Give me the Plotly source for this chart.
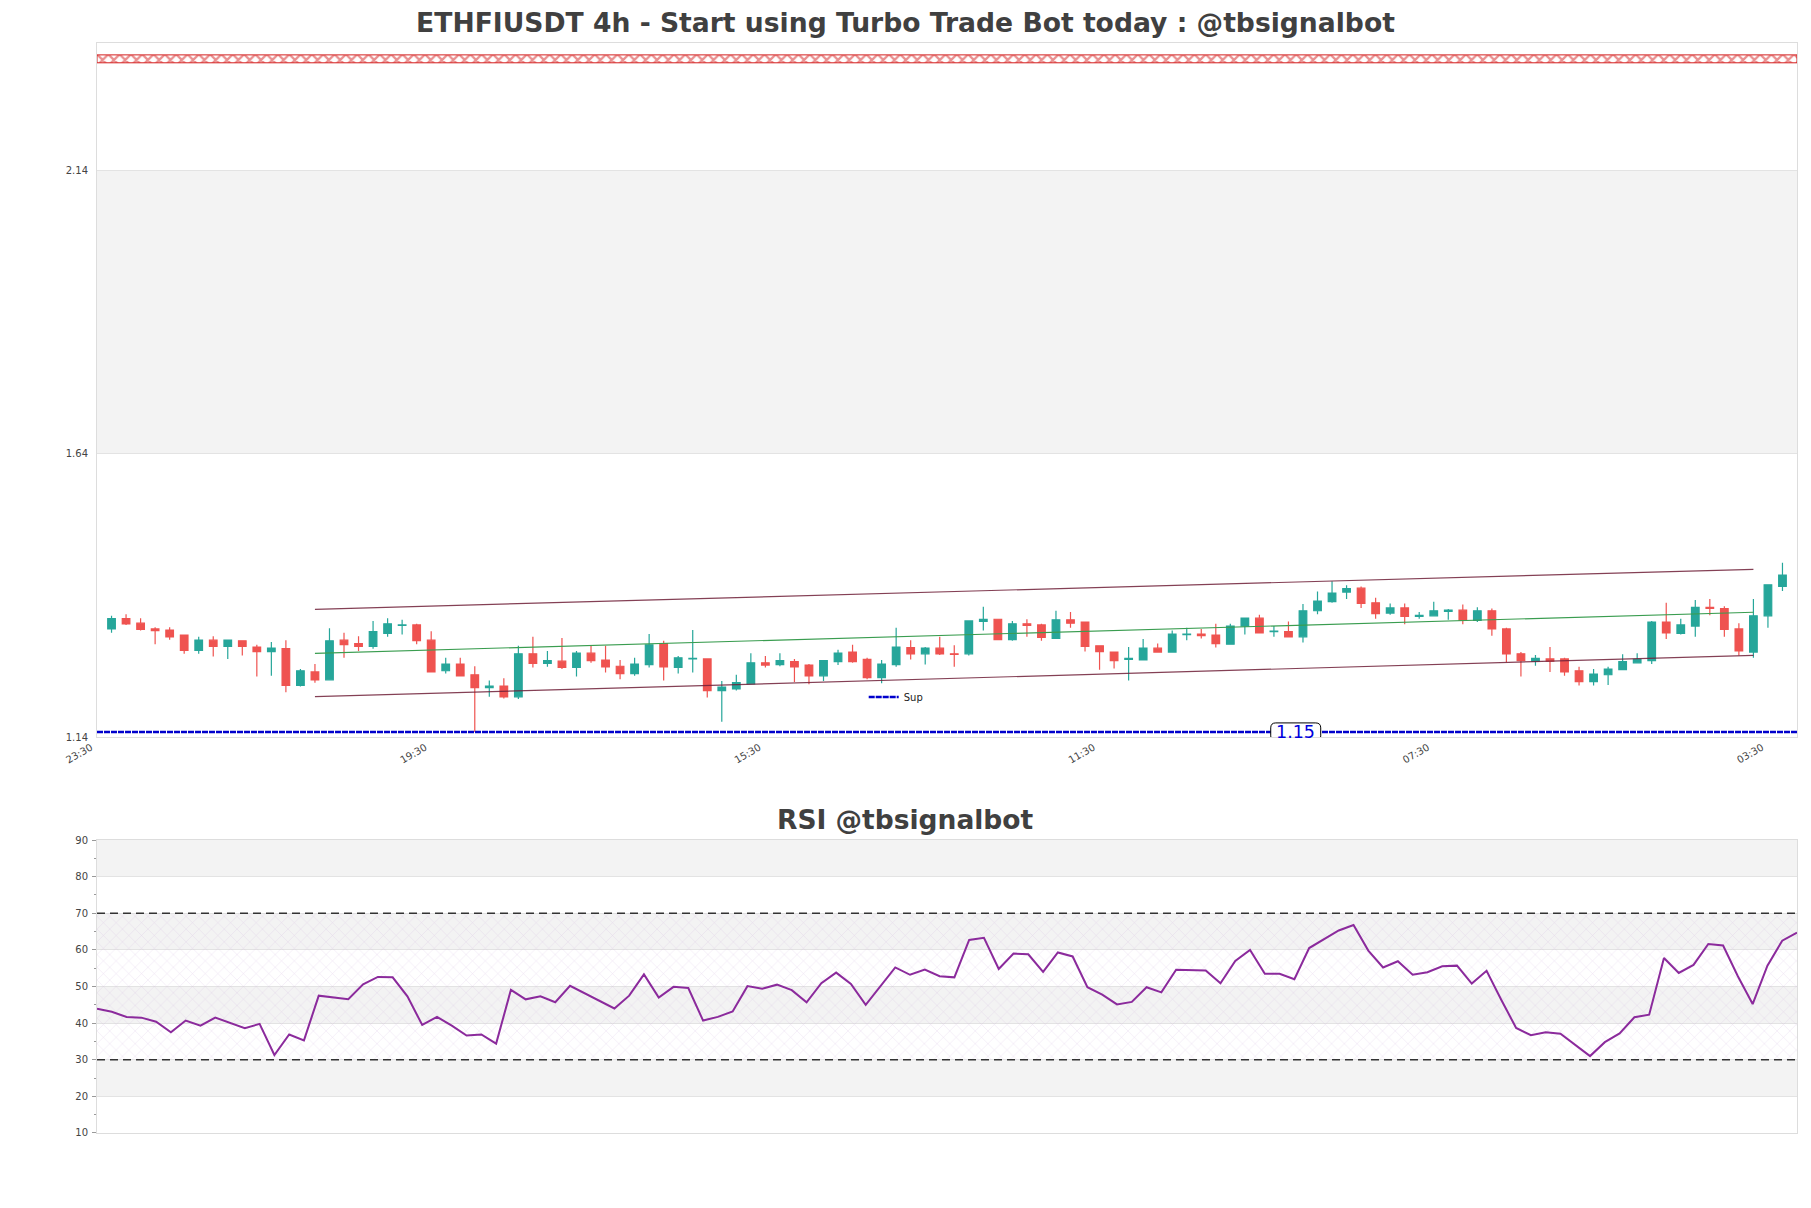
import plotly.graph_objects as go

# ---------------- data ----------------
opens = [1.331,1.349,1.341,1.331,1.329,1.320,1.293,1.311,1.300,1.310,
         1.299,1.291,1.296,1.231,1.255,1.241,1.311,1.305,1.300,1.323,
         1.337,1.338,1.311,1.257,1.269,1.250,1.227,1.230,1.211,1.287,
         1.270,1.274,1.263,1.288,1.276,1.265,1.252,1.268,1.305,1.263,
         1.278,1.278,1.222,1.225,1.234,1.271,1.268,1.273,1.267,1.248,
         1.273,1.290,1.277,1.245,1.268,1.298,1.287,1.297,1.287,1.287,
         1.344,1.348,1.312,1.340,1.338,1.314,1.347,1.343,1.301,1.290,
         1.277,1.276,1.297,1.290,1.321,1.322,1.320,1.304,1.336,1.350,
         1.326,1.326,1.317,1.363,1.379,1.396,1.403,1.377,1.359,1.368,
         1.353,1.354,1.362,1.364,1.346,1.363,1.331,1.287,1.274,1.278,
         1.278,1.257,1.238,1.250,1.259,1.271,1.275,1.343,1.323,1.336,
         1.369,1.367,1.331,1.290,1.354,1.406]
highs = [1.354,1.357,1.350,1.334,1.334,1.320,1.317,1.318,1.311,1.311,
         1.303,1.308,1.311,1.260,1.269,1.332,1.324,1.318,1.345,1.350,
         1.347,1.340,1.327,1.280,1.280,1.265,1.240,1.244,1.301,1.317,
         1.292,1.315,1.292,1.301,1.301,1.276,1.280,1.322,1.310,1.283,
         1.329,1.279,1.239,1.250,1.288,1.283,1.288,1.278,1.269,1.275,
         1.294,1.303,1.280,1.276,1.333,1.311,1.299,1.317,1.302,1.345,
         1.370,1.348,1.345,1.348,1.340,1.363,1.361,1.343,1.301,1.290,
         1.299,1.313,1.305,1.328,1.333,1.331,1.340,1.340,1.350,1.356,
         1.336,1.344,1.375,1.397,1.415,1.408,1.406,1.386,1.376,1.376,
         1.361,1.379,1.366,1.374,1.369,1.367,1.333,1.290,1.285,1.299,
         1.280,1.264,1.260,1.264,1.286,1.288,1.345,1.377,1.349,1.382,
         1.384,1.371,1.341,1.384,1.409,1.448]
lows = [1.324,1.338,1.328,1.304,1.312,1.287,1.287,1.282,1.278,1.284,
        1.247,1.248,1.219,1.229,1.236,1.240,1.280,1.292,1.296,1.317,
        1.321,1.304,1.254,1.252,1.247,1.149,1.211,1.208,1.207,1.263,
        1.264,1.260,1.247,1.271,1.254,1.242,1.248,1.263,1.240,1.252,
        1.254,1.210,1.167,1.222,1.234,1.263,1.265,1.237,1.233,1.239,
        1.267,1.271,1.242,1.235,1.264,1.277,1.268,1.285,1.264,1.284,
        1.328,1.312,1.310,1.317,1.310,1.314,1.333,1.291,1.259,1.261,
        1.240,1.276,1.290,1.290,1.311,1.314,1.298,1.304,1.321,1.323,
        1.317,1.316,1.307,1.357,1.377,1.384,1.368,1.349,1.356,1.339,
        1.349,1.354,1.347,1.339,1.343,1.319,1.272,1.247,1.266,1.255,
        1.248,1.231,1.231,1.232,1.258,1.270,1.269,1.313,1.321,1.317,
        1.355,1.317,1.284,1.280,1.333,1.398]
closes = [1.349,1.340,1.330,1.328,1.317,1.293,1.311,1.300,1.311,1.300,
          1.291,1.297,1.231,1.257,1.241,1.310,1.303,1.300,1.326,1.340,
          1.338,1.310,1.255,1.269,1.248,1.227,1.230,1.211,1.287,1.270,
          1.275,1.263,1.288,1.275,1.264,1.252,1.269,1.303,1.264,1.280,
          1.279,1.222,1.228,1.236,1.271,1.267,1.275,1.264,1.248,1.275,
          1.288,1.273,1.245,1.269,1.299,1.287,1.297,1.287,1.286,1.345,
          1.348,1.312,1.340,1.337,1.316,1.347,1.341,1.300,1.291,1.275,
          1.279,1.297,1.290,1.322,1.322,1.319,1.305,1.336,1.350,1.324,
          1.327,1.317,1.363,1.380,1.394,1.402,1.376,1.358,1.368,1.353,
          1.355,1.363,1.364,1.346,1.363,1.331,1.287,1.275,1.279,1.274,
          1.255,1.238,1.251,1.260,1.273,1.277,1.343,1.324,1.338,1.369,
          1.367,1.330,1.292,1.354,1.409,1.426]

rsi = [43.9,43.1,41.7,41.5,40.4,37.5,40.7,39.3,41.5,40.0,
       38.6,39.8,31.3,36.9,35.3,47.5,47.1,46.5,50.6,52.6,
       52.5,47.3,39.5,41.7,39.3,36.6,36.9,34.4,49.1,46.5,
       47.3,45.7,50.2,48.2,46.2,44.0,47.5,53.3,47.0,49.9,
       49.6,40.7,41.7,43.2,50.1,49.4,50.5,49.0,45.7,50.9,
       53.8,50.7,45.0,50.1,55.2,53.2,54.6,52.8,52.5,62.7,
       63.3,54.8,59.0,58.8,54.0,59.3,58.2,49.8,47.8,45.1,
       45.8,49.8,48.4,54.6,54.6,54.4,50.9,57.0,60.0,53.5,
       53.5,52.0,60.5,62.9,65.3,66.8,59.8,55.2,56.9,53.2,
       53.9,55.5,55.7,50.8,54.3,46.3,38.7,36.7,37.5,37.1,
       34.0,31.0,34.8,37.2,41.6,42.3,57.8,53.7,55.9,61.6,
       61.2,52.8,45.2,55.7,62.5,64.7]

tick_labels = ["23:30", "19:30", "15:30", "11:30", "07:30", "03:30"]
tick_index = [0, 23, 46, 69, 92, 115]

channel_x = [15, 114]
channel_upper = [1.3656, 1.4363]
channel_mid = [1.2878, 1.3603]
channel_lower = [1.2112, 1.2843]

support_level = 1.149
support_label = "1.15"
support_label_x = 82.5
top_level = [2.331, 2.345]

candle_x = list(range(1, len(opens) + 1))
rsi_x = list(range(len(rsi)))
x_end = len(opens) + 1

GREEN = "#26a69a"
RED = "#ef5350"

fig = go.Figure()

# top red marker band (hatch)
fig.add_trace(go.Scatter(
    x=[0, x_end, x_end, 0, 0], y=[top_level[0], top_level[0], top_level[1], top_level[1], top_level[0]],
    mode="lines", fill="toself", line=dict(color="#d41f1f", width=1),
    fillcolor="rgba(255,255,255,0)",
    fillpattern=dict(shape="x", fgcolor="#d41f1f", bgcolor="white", size=8, solidity=0.5),
    showlegend=False, hoverinfo="skip", xaxis="x", yaxis="y"))

# support line
fig.add_trace(go.Scatter(
    x=[0, x_end], y=[support_level, support_level], mode="lines",
    line=dict(color="#0000cc", width=2.5, dash="6px,1px"),
    name="Sup", showlegend=True, xaxis="x", yaxis="y"))

# channel lines
fig.add_trace(go.Scatter(x=channel_x, y=channel_upper, mode="lines",
                         line=dict(color="rgba(110,30,55,0.85)", width=1.2),
                         showlegend=False, xaxis="x", yaxis="y"))
fig.add_trace(go.Scatter(x=channel_x, y=channel_lower, mode="lines",
                         line=dict(color="rgba(110,30,55,0.85)", width=1.2),
                         showlegend=False, xaxis="x", yaxis="y"))
fig.add_trace(go.Scatter(x=channel_x, y=channel_mid, mode="lines",
                         line=dict(color="#3a9d50", width=1.1),
                         showlegend=False, xaxis="x", yaxis="y"))

# candles
fig.add_trace(go.Candlestick(
    x=candle_x, open=opens, high=highs, low=lows, close=closes,
    increasing=dict(line=dict(color=GREEN, width=1.2), fillcolor=GREEN),
    decreasing=dict(line=dict(color=RED, width=1.2), fillcolor=RED),
    showlegend=False, xaxis="x", yaxis="y"))

# RSI hatch band
fig.add_trace(go.Scatter(
    x=[0, rsi_x[-1], rsi_x[-1], 0, 0], y=[30, 30, 70, 70, 30],
    mode="lines", fill="toself", line=dict(width=0),
    fillcolor="rgba(255,255,255,0)",
    fillpattern=dict(shape="x", fgcolor="rgba(200,160,215,0.75)", size=9, solidity=0.1),
    showlegend=False, hoverinfo="skip", xaxis="x2", yaxis="y2"))

fig.add_trace(go.Scatter(
    x=rsi_x, y=rsi, mode="lines", line=dict(color="#8b2a9c", width=2),
    showlegend=False, xaxis="x2", yaxis="y2"))

shapes = [
    dict(type="rect", xref="paper", yref="y", x0=0, x1=1, y0=1.64, y1=2.14,
         fillcolor="#f3f3f3", line=dict(width=0), layer="below"),
]
for lo, hi in [(80, 90), (60, 70), (40, 50), (20, 30)]:
    shapes.append(dict(type="rect", xref="paper", yref="y2", x0=0, x1=1, y0=lo, y1=hi,
                       fillcolor="#f3f3f3", line=dict(width=0), layer="below"))
for lvl in [30, 70]:
    shapes.append(dict(type="line", xref="paper", yref="y2", x0=0, x1=1, y0=lvl, y1=lvl,
                       line=dict(color="#333333", width=1.3, dash="8px,5px")))

# rounded box behind the support label
shapes.append(dict(
    type="path", xref="x", yref="y", xsizemode="pixel", ysizemode="pixel",
    xanchor=support_label_x, yanchor=support_level,
    path="M -20,-9 L 20,-9 Q 25,-9 25,-4 L 25,4 Q 25,9 20,9 L -20,9 Q -25,9 -25,4 "
         "L -25,-4 Q -25,-9 -20,-9 Z",
    fillcolor="white", line=dict(color="black", width=1), layer="above"))

TICKFONT = dict(family="DejaVu Sans", size=10, color="#444444")

fig.update_layout(
    width=1811, height=1208,
    margin=dict(l=97, r=14, t=43, b=75),
    paper_bgcolor="white", plot_bgcolor="white",
    boxgap=0.25,
    shapes=shapes,
    title=dict(text="<b>ETHFIUSDT 4h - Start using Turbo Trade Bot today : @tbsignalbot</b>",
               x=0.5, xref="container", xanchor="center",
               y=1 - 23 / 1208, yref="container", yanchor="middle",
               font=dict(family="DejaVu Sans", size=26.6, color="#404040")),
    xaxis=dict(domain=[0, 1], anchor="y", range=[0, x_end],
               tickmode="array", tickvals=tick_index, ticktext=tick_labels,
               tickangle=-30, tickfont=TICKFONT, showgrid=False,
               ticklabelshift=-6,
               showline=True, mirror=True, linecolor="#dddddd", linewidth=1,
               zeroline=False, rangeslider=dict(visible=False), ticks=""),
    yaxis=dict(domain=[0.3633, 1.0], anchor="x", range=[1.14, 2.366],
               tickmode="array", tickvals=[1.14, 1.64, 2.14], ticktext=["1.14", "1.64", "2.14"],
               tickfont=TICKFONT, showgrid=True, gridcolor="#e3e3e3", ticklabelstandoff=6,
               showline=True, mirror=True, linecolor="#dddddd", zeroline=False, ticks=""),
    xaxis2=dict(domain=[0, 1], anchor="y2", range=[0, rsi_x[-1]],
                showticklabels=False, showgrid=False, zeroline=False,
                showline=True, mirror=True, linecolor="#dddddd", ticks=""),
    yaxis2=dict(domain=[0, 0.2688], anchor="x2", range=[10, 90],
                tickmode="array", tickvals=[10, 20, 30, 40, 50, 60, 70, 80, 90],
                tickfont=TICKFONT, showgrid=True, gridcolor="#e3e3e3", ticklabelstandoff=2,
                showline=True, mirror=True, linecolor="#dddddd", zeroline=False,
                ticks="outside", ticklen=4, tickcolor="#999999",
                minor=dict(ticks="outside", ticklen=2, tickcolor="#999999",
                           tickvals=[15, 25, 35, 45, 55, 65, 75, 85], showgrid=False)),
    legend=dict(x=0.451, y=0.400, xanchor="left", yanchor="middle",
                bgcolor="rgba(255,255,255,0)", font=dict(family="DejaVu Sans", size=10, color="#222222"),
                itemwidth=30),
    annotations=[
        dict(text="<b>RSI @tbsignalbot</b>", x=(905.5 - 97) / 1700, xref="paper", y=0.2872, yref="paper",
             xanchor="center", yanchor="middle", showarrow=False,
             font=dict(family="DejaVu Sans", size=26.5, color="#404040")),
        dict(text=support_label, x=support_label_x, xref="x", y=support_level, yref="y",
             xanchor="center", yanchor="middle", showarrow=False,
             font=dict(family="DejaVu Sans", size=17.5, color="#0000dd")),
    ],
)

fig.write_html("out.html")
